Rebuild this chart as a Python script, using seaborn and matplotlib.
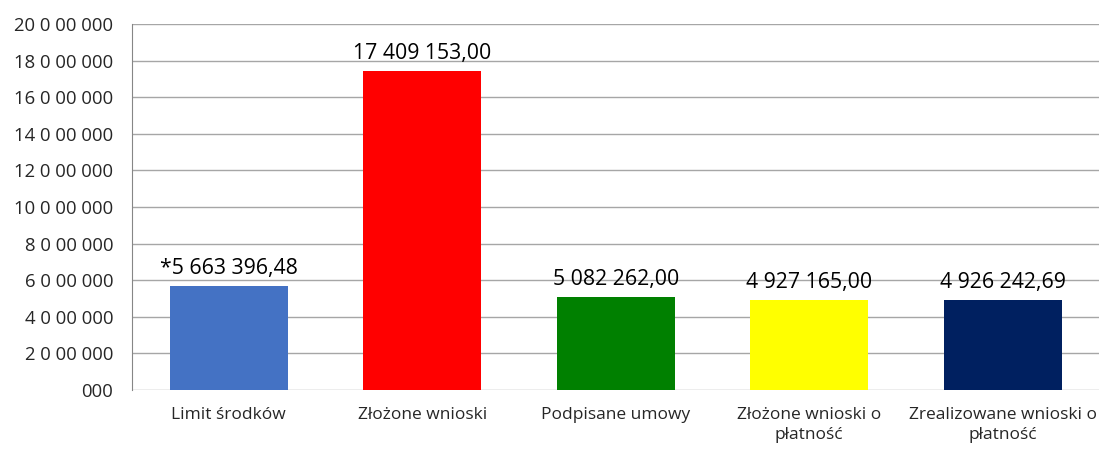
import matplotlib
matplotlib.use("Agg")
import matplotlib.pyplot as plt
import seaborn as sns
import pandas as pd

categories = ["Limit środków", "Złożone wnioski", "Podpisane umowy",
              "Złożone wnioski o\npłatność", "Zrealizowane wnioski o\npłatność"]
values = [5663396.48, 17409153.00, 5082262.00, 4927165.00, 4926242.69]
bar_labels = ["*5 663 396,48", "17 409 153,00", "5 082 262,00", "4 927 165,00", "4 926 242,69"]
colors = ["#4472C4", "#FF0000", "#008000", "#FFFF00", "#002060"]
y_ticks = [0, 2000000, 4000000, 6000000, 8000000, 10000000,
           12000000, 14000000, 16000000, 18000000, 20000000]
y_tick_labels = ["000", "2 0 00 000", "4 0 00 000", "6 0 00 000", "8 0 00 000", "10 0 00 000",
                 "12 0 00 000", "14 0 00 000", "16 0 00 000", "18 0 00 000", "20 0 00 000"]

sns.set_style("white")
plt.rcParams['font.family'] = ['Open Sans', 'DejaVu Sans']

df = pd.DataFrame({"cat": categories, "val": values})

fig = plt.figure(figsize=(11.05, 4.49), dpi=100)
ax = fig.add_axes([0.1195, 0.1314, 0.8755, 0.8151])

sns.barplot(data=df, x="cat", y="val", hue="cat", palette=colors,
            width=0.61, legend=False, ax=ax, saturation=1, linewidth=0)

ax.set_ylim(0, 20000000)
ax.set_yticks(y_ticks)
ax.set_yticklabels(y_tick_labels, fontsize=13.3, color="#262626")
ax.tick_params(axis="y", length=6, color="#868686", pad=7.5)
ax.tick_params(axis="x", length=0, pad=12, labelcolor="#262626")
for t in ax.get_xticklabels():
    t.set_fontsize(12.5)
    t.set_linespacing(1.35)
ax.grid(axis="y", color="#A6A6A6", linewidth=1)
ax.set_axisbelow(True)
ax.set_xlabel("")
ax.set_ylabel("")
for side in ["top", "right", "bottom"]:
    ax.spines[side].set_visible(False)
ax.spines["left"].set_color("#868686")

for i, (v, lab) in enumerate(zip(values, bar_labels)):
    ax.annotate(lab, (i, v), xytext=(0, 5), textcoords="offset points",
                ha="center", va="bottom", fontsize=15.3, color="#000000")

fig.savefig("out.png", dpi=100)
